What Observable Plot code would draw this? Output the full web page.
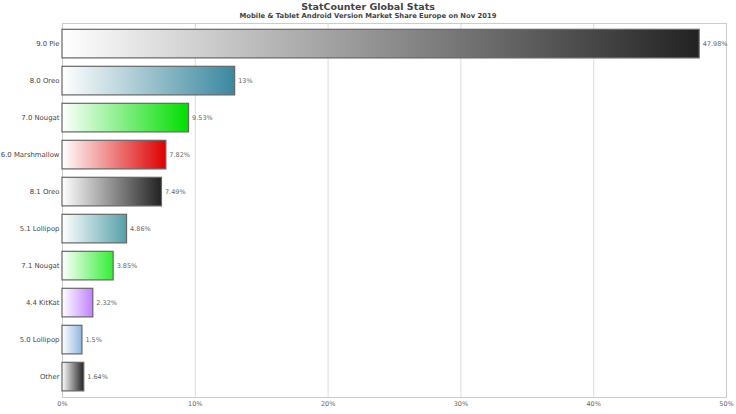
<!DOCTYPE html>
<html>
<head>
<meta charset="utf-8">
<script src="https://cdn.jsdelivr.net/npm/d3@7"></script>
<script src="https://cdn.jsdelivr.net/npm/@observablehq/plot@0.6"></script>
<style>
  html, body { margin: 0; padding: 0; background: #fff; }
  body { width: 736px; height: 414px; overflow: hidden; font-family: "DejaVu Sans", sans-serif; }
  .title { height: 11px; line-height: 11px; text-align: center; font-size: 9.5px; font-weight: bold; color: #444; margin-top: 1px; }
  .subtitle { height: 8px; line-height: 8px; text-align: center; font-size: 6.8px; font-weight: bold; color: #444; }
</style>
</head>
<body>
<div class="title">StatCounter Global Stats</div>
<div class="subtitle">Mobile &amp; Tablet Android Version Market Share Europe on Nov 2019</div>
<div id="chart"></div>
<script>
const categories = ["9.0 Pie", "8.0 Oreo", "7.0 Nougat", "6.0 Marshmallow", "8.1 Oreo", "5.1 Lollipop", "7.1 Nougat", "4.4 KitKat", "5.0 Lollipop", "Other"];
const shares = [47.98, 13, 9.53, 7.82, 7.49, 4.86, 3.85, 2.32, 1.5, 1.64];
const xTicks = [0, 10, 20, 30, 40, 50];
const barColors = ["#222222", "#3a889e", "#00dd00", "#dd0000", "#222222", "#55a0aa", "#33ee33", "#c080ff", "#8fb5e0", "#222222"];

const data = categories.map((c, i) => ({i, category: c, value: shares[i]}));

const chart = Plot.plot({
  width: 736,
  height: 395,
  marginTop: 3,
  marginBottom: 18,
  marginLeft: 62,
  marginRight: 10,
  style: {fontFamily: "DejaVu Sans, sans-serif", background: "#fff"},
  x: {domain: [0, 50], ticks: xTicks, tickFormat: d => d + "%", tickSize: 0, label: null, grid: false},
  y: {domain: categories, padding: 0, tickSize: 0, label: null},
  marks: [
    Plot.ruleX(xTicks, {stroke: "#dddddd", strokeWidth: 1}),
    Plot.frame({stroke: "#cccccc", strokeWidth: 1}),
    Plot.barX(data, {
      x: "value", y: "category",
      insetTop: 4.3, insetBottom: 4.1,
      fill: d => `url(#grad${d.i})`,
      stroke: "#666666", strokeWidth: 1.2
    }),
    Plot.text(data, {
      x: "value", y: "category",
      text: d => d.value + "%",
      textAnchor: "start", dx: 3,
      fontSize: 6.5, fill: "#666666"
    }),
    Plot.axisY({tickSize: 0, fontSize: 6.9, color: "#444", tickPadding: 3, label: null}),
    Plot.axisX({ticks: xTicks, tickFormat: d => d + "%", tickSize: 0, fontSize: 6.5, color: "#666", tickPadding: 4, label: null})
  ]
});

const svg = d3.select(chart);
const defs = svg.insert("defs", ":first-child");
barColors.forEach((col, i) => {
  const g = defs.append("linearGradient").attr("id", "grad" + i)
    .attr("x1", "0").attr("y1", "0").attr("x2", "1").attr("y2", "0");
  g.append("stop").attr("offset", "0").attr("stop-color", "#ffffff");
  g.append("stop").attr("offset", "1").attr("stop-color", col);
});
svg.selectAll("g[aria-label='bar'] rect").each(function(d, k) {
  const idx = typeof d === "number" ? d : k;
  d3.select(this).attr("fill", `url(#grad${idx})`);
});

document.getElementById("chart").appendChild(chart);
</script>
</body>
</html>
